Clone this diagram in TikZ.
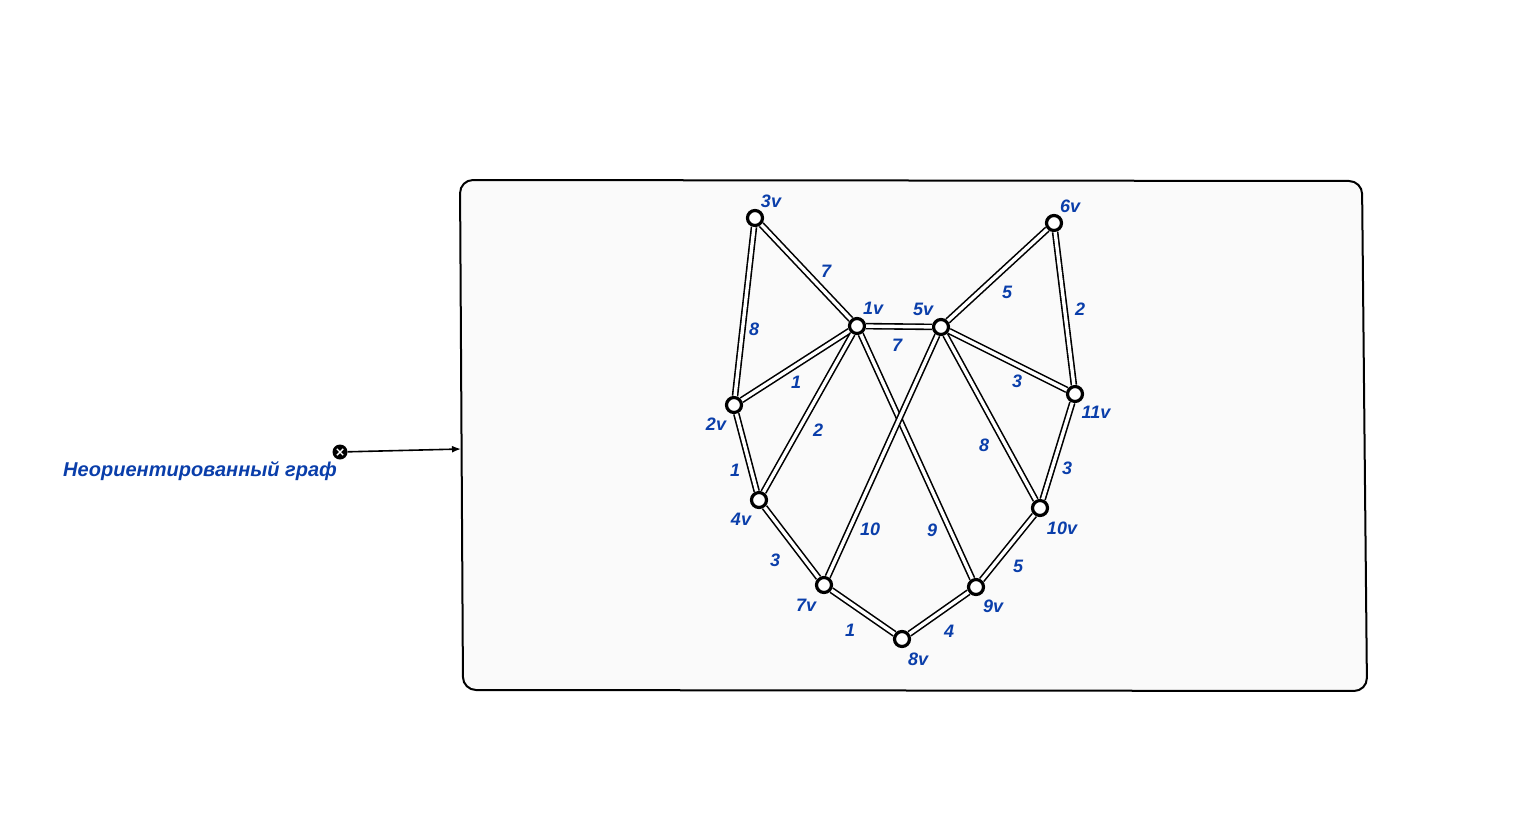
\documentclass[tikz,border=0pt]{standalone}
\usepackage{fontspec}
\setmainfont{Liberation Sans}
\usetikzlibrary{arrows.meta,calc}
\definecolor{lblue}{RGB}{10,62,170}
\definecolor{framefill}{RGB}{250,250,250}
\begin{document}
\begin{tikzpicture}[x=1bp,y=-1bp,
  vert/.style={circle,draw=black,line width=3.2bp,fill=white,minimum size=15bp,inner sep=0pt},
  edge/.style={draw=black,line width=1.6bp,double=white,double distance=3.4bp},
  lbl/.style={text=lblue,font=\fontsize{18bp}{20bp}\selectfont\bfseries\itshape,inner sep=0pt},
  wt/.style={lbl}]
\useasboundingbox (0,0) rectangle (1537,827);
% frame
\draw[line width=2bp,fill=framefill,rounded corners=13bp] (460,180) -- (1362,181) -- (1367,691) -- (463,690) -- cycle;
\coordinate (fl) at (461,449);
% marker and caption
\node[circle,fill=black,minimum size=15bp,inner sep=0pt] (mk) at (340,452) {};
\draw[white,line width=1.4bp] ($(mk)+(-3.2,-3.2)$) -- ($(mk)+(3.2,3.2)$);
\draw[white,line width=1.4bp] ($(mk)+(-3.2,3.2)$) -- ($(mk)+(3.2,-3.2)$);
\node[lbl,font=\fontsize{20bp}{22bp}\selectfont\bfseries\itshape] (cap) at (200,471) {Неориентированный граф};
\draw[line width=1.6bp,-{Latex[length=9bp,width=7bp]}] (mk) -- (fl);
% vertices
\node[vert] (v3) at (755,218) {};
\node[vert] (v6) at (1054,223) {};
\node[vert] (v1) at (857,326) {};
\node[vert] (v5) at (941,327) {};
\node[vert] (v2) at (734,405) {};
\node[vert] (v11) at (1075,394) {};
\node[vert] (v4) at (759,500) {};
\node[vert] (v10) at (1040,508) {};
\node[vert] (v7) at (824,585) {};
\node[vert] (v9) at (976,587) {};
\node[vert] (v8) at (902,639) {};
% edges
\path[edge] (v3) -- (v1);
\path[edge] (v3) -- (v2);
\path[edge] (v1) -- (v5);
\path[edge] (v1) -- (v2);
\path[edge] (v1) -- (v4);
\path[edge] (v1) -- (v9);
\path[edge] (v5) -- (v7);
\path[edge] (v5) -- (v6);
\path[edge] (v5) -- (v11);
\path[edge] (v5) -- (v10);
\path[edge] (v6) -- (v11);
\path[edge] (v11) -- (v10);
\path[edge] (v2) -- (v4);
\path[edge] (v4) -- (v7);
\path[edge] (v7) -- (v8);
\path[edge] (v8) -- (v9);
\path[edge] (v9) -- (v10);
% vertex labels
\node[lbl] (l3) at (771,201) {3v};
\node[lbl] (l6) at (1070,206) {6v};
\node[lbl] (l1) at (873,308) {1v};
\node[lbl] (l5) at (923,309) {5v};
\node[lbl] (l2) at (716,424) {2v};
\node[lbl] (l11) at (1096,412) {11v};
\node[lbl] (l4) at (741,519) {4v};
\node[lbl] (l10) at (1062,528) {10v};
\node[lbl] (l7) at (806,605) {7v};
\node[lbl] (l9) at (993,606) {9v};
\node[lbl] (l8) at (918,659) {8v};
% weights
\node[wt] (w31) at (826,271) {7};
\node[wt] (w32) at (754,329) {8};
\node[wt] (w15) at (897,345) {7};
\node[wt] (w12) at (796,382) {1};
\node[wt] (w14) at (818,430) {2};
\node[wt] (w56) at (1007,292) {5};
\node[wt] (w611) at (1080,309) {2};
\node[wt] (w511) at (1017,381) {3};
\node[wt] (w510) at (984,445) {8};
\node[wt] (w1110) at (1067,468) {3};
\node[wt] (w57) at (870,529) {10};
\node[wt] (w19) at (932,530) {9};
\node[wt] (w24) at (735,470) {1};
\node[wt] (w47) at (775,560) {3};
\node[wt] (w910) at (1018,566) {5};
\node[wt] (w78) at (850,630) {1};
\node[wt] (w89) at (949,631) {4};
\end{tikzpicture}
\end{document}
